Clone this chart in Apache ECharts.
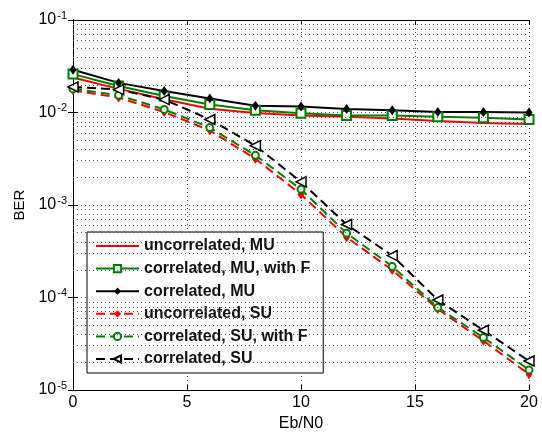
<!DOCTYPE html>
<html>
<head>
<meta charset="utf-8">
<script src="https://cdn.jsdelivr.net/npm/echarts/dist/echarts.min.js"></script>
<style>
  html, body { margin: 0; padding: 0; background: #fff; }
  #chart { width: 542px; height: 436px; }
</style>
</head>
<body>
<div id="chart"></div>
<script>
// Eb/N0 points (dB)
const ebn0 = [0, 2, 4, 6, 8, 10, 12, 14, 16, 18, 20];

// BER curves
const uncorrMU = [0.0239, 0.0180, 0.0139, 0.0110, 0.0099, 0.0093, 0.0090, 0.0086, 0.0081, 0.0077, 0.0075];
const corrMUF = [0.0260, 0.0193, 0.0151, 0.0122, 0.0106, 0.0098, 0.0093, 0.0093, 0.0090, 0.0088, 0.0084];
const corrMU = [0.0290, 0.0209, 0.0171, 0.0142, 0.0118, 0.0116, 0.0109, 0.0106, 0.0101, 0.0101, 0.0100];
const uncorrSU = [0.0174, 0.0145, 0.0101, 0.0064, 0.00316, 0.00130, 0.000448, 0.000198, 0.000075, 0.000034, 0.0000148];
const corrSUF = [0.0180, 0.0154, 0.0108, 0.00687, 0.00344, 0.00148, 0.000495, 0.000217, 0.000078, 0.0000369, 0.0000165];
const corrSU = [0.0189, 0.0177, 0.0138, 0.0084, 0.00438, 0.00178, 0.000615, 0.000284, 0.000094, 0.0000443, 0.0000206];

const names = ['uncorrelated, MU', 'correlated, MU, with F', 'correlated, MU',
  'uncorrelated, SU', 'correlated, SU, with F', 'correlated, SU'];

// minor log grid positions (2..9 within each decade), as log10 values
const minorGrid = [];
for (let e = -5; e < -1; e++) {
  for (let m = 2; m <= 9; m++) minorGrid.push(e + Math.log10(m));
}

const gridStyle = { color: '#555', width: 1, type: [1, 3] };
const font = 'Arial, "Liberation Sans", sans-serif';

const chart = echarts.init(document.getElementById('chart'));

const pts = (arr) => ebn0.map((x, i) => [x, arr[i]]);

const option = {
  animation: false,
  backgroundColor: '#fff',
  grid: { left: 73, right: 13, top: 20, bottom: 46, outerBoundsMode: 'none' },
  legend: {
    orient: 'vertical',
    left: 87,
    top: 232,
    width: 235,
    backgroundColor: '#fff',
    borderColor: '#000',
    borderWidth: 1,
    padding: [6, 13, 6, 8],
    itemWidth: 43,
    itemHeight: 9,
    itemGap: 6.6,
    textStyle: { fontSize: 16, fontWeight: 'bold', color: '#111', fontFamily: font },
    data: [{ name: names[0], itemStyle: { opacity: 0 } }].concat(names.slice(1))
  },
  xAxis: [{
    type: 'value', min: 0, max: 20, interval: 5,
    name: 'Eb/N0', nameLocation: 'middle', nameGap: 26,
    nameTextStyle: { fontSize: 16, color: '#000', fontFamily: font },
    axisLine: { lineStyle: { color: '#000', width: 1 } },
    axisTick: { inside: true, length: 5, lineStyle: { color: '#000' } },
    axisLabel: { fontSize: 16, color: '#000', margin: 5, fontFamily: font },
    splitLine: { show: true, lineStyle: gridStyle }
  }, {
    type: 'value', min: 0, max: 20, interval: 5, position: 'top',
    axisLine: { show: true, lineStyle: { color: '#000', width: 1 } },
    axisTick: { inside: true, length: 5, lineStyle: { color: '#000' } },
    axisLabel: { show: false },
    splitLine: { show: false }
  }],
  yAxis: [{
    type: 'log', logBase: 10, min: 1e-5, max: 1e-1,
    name: 'BER', nameLocation: 'middle', nameGap: 43,
    nameTextStyle: { fontSize: 15, color: '#000', fontFamily: font },
    axisLine: { show: true, lineStyle: { color: '#000', width: 1 } },
    axisTick: { show: true, inside: true, length: 5, lineStyle: { color: '#000' } },
    axisLabel: {
      margin: 6,
      fontFamily: font,
      formatter: (v) => '{b|10}{s|' + Math.round(Math.log10(v)) + '}',
      rich: {
        b: { fontSize: 16, color: '#000', fontFamily: font },
        s: { fontSize: 11, color: '#000', fontFamily: font, verticalAlign: 'bottom', padding: [0, 0, 9, 1] }
      }
    },
    splitLine: { show: true, lineStyle: gridStyle }
  }, {
    type: 'log', logBase: 10, min: 1e-5, max: 1e-1, position: 'right',
    axisLine: { show: true, lineStyle: { color: '#000', width: 1 } },
    axisTick: { show: true, inside: true, length: 5, lineStyle: { color: '#000' } },
    axisLabel: { show: false },
    splitLine: { show: false }
  }, {
    // hidden linear axis in log10 units, used only for minor grid lines
    type: 'value', min: -5, max: -1, show: false
  }],
  series: [
    {
      name: 'minor', type: 'line', data: [], silent: true, yAxisIndex: 2, z: 1,
      markLine: {
        silent: true, symbol: 'none', label: { show: false },
        lineStyle: gridStyle,
        data: minorGrid.map(v => ({ yAxis: v }))
      }
    },
    {
      name: names[0], type: 'line', data: pts(uncorrMU), symbol: 'none',
      lineStyle: { color: '#ff0000', width: 2 }, itemStyle: { color: '#ff0000' }
    },
    {
      name: names[1], type: 'line', data: pts(corrMUF), symbol: 'rect', symbolSize: 9,
      lineStyle: { color: '#008000', width: 2 },
      itemStyle: { color: '#fff', borderColor: '#008000', borderWidth: 2 }
    },
    {
      name: names[2], type: 'line', data: pts(corrMU), symbol: 'diamond', symbolSize: [7, 10],
      lineStyle: { color: '#000', width: 2 }, itemStyle: { color: '#000' }
    },
    {
      name: names[3], type: 'line', data: pts(uncorrSU), symbol: 'diamond', symbolSize: [7, 10],
      lineStyle: { color: '#ff0000', width: 2, type: [9, 5] }, itemStyle: { color: '#ff0000' }
    },
    {
      name: names[4], type: 'line', data: pts(corrSUF), symbol: 'circle', symbolSize: 7,
      lineStyle: { color: '#008000', width: 2, type: [9, 5] },
      itemStyle: { color: '#fff', borderColor: '#008000', borderWidth: 2 }
    },
    {
      name: names[5], type: 'line', data: pts(corrSU), symbol: 'triangle', symbolSize: 10, symbolRotate: 90,
      lineStyle: { color: '#000', width: 2, type: [9, 5] },
      itemStyle: { color: '#fff', borderColor: '#000', borderWidth: 1.5 }
    }
  ]
};

chart.setOption(option);
</script>
</body>
</html>
